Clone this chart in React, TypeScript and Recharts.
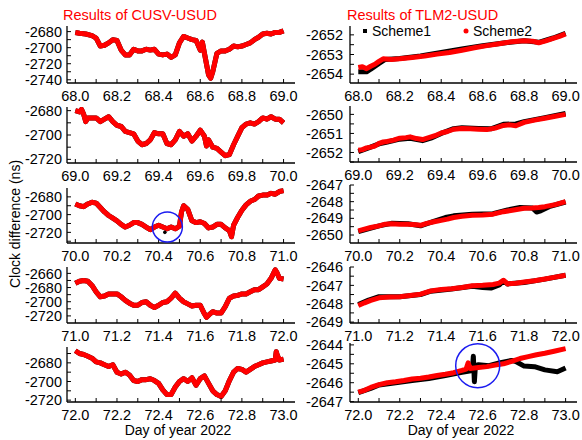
import { Line, LineChart, ReferenceDot, XAxis, YAxis } from "recharts";

type Pt = [number, number];

// CUSV-USUD, one array per day (both schemes overlap here)
const cusv68: Pt[] = [[68.00,-2681],[68.02,-2682],[68.05,-2683],[68.08,-2685],[68.10,-2688],[68.12,-2698],[68.14,-2697],[68.16,-2694],[68.18,-2690],[68.20,-2691],[68.22,-2703],[68.24,-2709],[68.26,-2709],[68.28,-2702],[68.30,-2704],[68.32,-2704],[68.34,-2702],[68.36,-2703],[68.38,-2702],[68.40,-2708],[68.42,-2709],[68.44,-2708],[68.46,-2712],[68.48,-2709],[68.50,-2694],[68.52,-2686],[68.54,-2688],[68.56,-2690],[68.58,-2691],[68.60,-2703],[68.61,-2693],[68.62,-2707],[68.64,-2734],[68.65,-2738],[68.66,-2730],[68.68,-2707],[68.70,-2704],[68.72,-2704],[68.74,-2702],[68.76,-2698],[68.78,-2699],[68.80,-2698],[68.82,-2696],[68.84,-2694],[68.86,-2690],[68.88,-2687],[68.90,-2683],[68.92,-2682],[68.94,-2683],[68.96,-2681],[68.98,-2681],[69.00,-2679]];
const cusv69: Pt[] = [[69.00,-2680],[69.02,-2681],[69.03,-2679],[69.04,-2683],[69.05,-2689],[69.06,-2686],[69.08,-2686],[69.10,-2686],[69.12,-2689],[69.14,-2687],[69.16,-2685],[69.18,-2689],[69.20,-2692],[69.22,-2693],[69.24,-2697],[69.26,-2698],[69.28,-2699],[69.30,-2705],[69.32,-2708],[69.34,-2707],[69.36,-2704],[69.38,-2698],[69.40,-2699],[69.42,-2699],[69.44,-2707],[69.46,-2708],[69.48,-2704],[69.50,-2697],[69.52,-2701],[69.54,-2699],[69.56,-2705],[69.58,-2701],[69.60,-2696],[69.62,-2701],[69.63,-2709],[69.64,-2704],[69.66,-2710],[69.68,-2711],[69.70,-2714],[69.72,-2717],[69.74,-2716],[69.76,-2708],[69.78,-2701],[69.80,-2694],[69.82,-2691],[69.84,-2690],[69.86,-2691],[69.88,-2689],[69.90,-2686],[69.92,-2687],[69.94,-2685],[69.96,-2687],[69.98,-2687],[70.00,-2690]];
const cusv70: Pt[] = [[70.00,-2688],[70.02,-2690],[70.04,-2691],[70.06,-2688],[70.08,-2686],[70.10,-2687],[70.12,-2692],[70.14,-2697],[70.16,-2701],[70.18,-2704],[70.20,-2707],[70.22,-2711],[70.24,-2714],[70.26,-2712],[70.28,-2709],[70.30,-2709],[70.32,-2711],[70.34,-2714],[70.36,-2717],[70.38,-2714],[70.40,-2712],[70.42,-2714],[70.44,-2716],[70.46,-2714],[70.48,-2716],[70.50,-2713],[70.51,-2697],[70.52,-2690],[70.54,-2694],[70.56,-2707],[70.58,-2709],[70.60,-2708],[70.62,-2710],[70.64,-2715],[70.66,-2714],[70.68,-2711],[70.70,-2711],[70.72,-2715],[70.74,-2718],[70.75,-2725],[70.76,-2712],[70.78,-2703],[70.80,-2695],[70.82,-2689],[70.84,-2685],[70.86,-2683],[70.88,-2679],[70.90,-2678],[70.92,-2678],[70.94,-2676],[70.96,-2677],[70.98,-2674],[71.00,-2673]];
const cusv70Outlier: Pt[] = [[70.43,-2720]];
const cusv71: Pt[] = [[71.00,-2674],[71.02,-2671],[71.04,-2670],[71.06,-2671],[71.08,-2677],[71.10,-2686],[71.12,-2693],[71.14,-2692],[71.16,-2689],[71.18,-2689],[71.20,-2689],[71.22,-2693],[71.24,-2698],[71.26,-2702],[71.28,-2705],[71.30,-2705],[71.32,-2701],[71.34,-2700],[71.36,-2705],[71.38,-2708],[71.40,-2705],[71.42,-2701],[71.44,-2700],[71.46,-2695],[71.48,-2688],[71.50,-2695],[71.52,-2700],[71.54,-2703],[71.56,-2706],[71.58,-2705],[71.60,-2705],[71.62,-2717],[71.63,-2722],[71.64,-2719],[71.66,-2714],[71.68,-2716],[71.70,-2716],[71.72,-2707],[71.74,-2695],[71.76,-2692],[71.78,-2691],[71.80,-2689],[71.82,-2689],[71.84,-2686],[71.86,-2683],[71.88,-2683],[71.90,-2679],[71.92,-2675],[71.94,-2667],[71.96,-2655],[71.97,-2660],[71.98,-2667],[72.00,-2668]];
const cusv72: Pt[] = [[72.00,-2667],[72.02,-2670],[72.04,-2671],[72.06,-2673],[72.08,-2675],[72.10,-2679],[72.12,-2680],[72.14,-2682],[72.16,-2684],[72.18,-2682],[72.20,-2690],[72.22,-2692],[72.24,-2690],[72.26,-2693],[72.28,-2699],[72.30,-2700],[72.32,-2698],[72.34,-2698],[72.36,-2697],[72.38,-2699],[72.40,-2702],[72.42,-2709],[72.44,-2714],[72.46,-2714],[72.48,-2706],[72.50,-2700],[72.52,-2697],[72.54,-2700],[72.56,-2696],[72.58,-2704],[72.60,-2697],[72.62,-2694],[72.64,-2702],[72.66,-2710],[72.68,-2714],[72.70,-2716],[72.72,-2710],[72.74,-2699],[72.76,-2690],[72.78,-2686],[72.80,-2687],[72.82,-2690],[72.84,-2687],[72.86,-2684],[72.88,-2682],[72.90,-2680],[72.92,-2679],[72.94,-2678],[72.96,-2677],[72.965,-2668],[72.97,-2672],[72.98,-2677],[73.00,-2676]];

// TLM2-USUD, Scheme1 (black) and Scheme2 (red)
const tlm68s1: Pt[] = [[68.00,-2653.88],[68.04,-2653.88],[68.06,-2653.75],[68.10,-2653.45],[68.13,-2653.25],[68.20,-2653.2],[68.30,-2653.07],[68.40,-2652.9],[68.50,-2652.72],[68.60,-2652.55],[68.70,-2652.42],[68.80,-2652.3],[68.87,-2652.38],[68.94,-2652.16],[69.00,-2651.93]];
const tlm68s2: Pt[] = [[68.00,-2653.66],[68.02,-2653.62],[68.04,-2653.72],[68.06,-2653.6],[68.08,-2653.5],[68.10,-2653.35],[68.12,-2653.22],[68.16,-2653.25],[68.20,-2653.22],[68.26,-2653.15],[68.32,-2653.08],[68.38,-2652.98],[68.44,-2652.9],[68.50,-2652.78],[68.56,-2652.66],[68.62,-2652.55],[68.68,-2652.45],[68.74,-2652.35],[68.80,-2652.3],[68.84,-2652.32],[68.87,-2652.4],[68.90,-2652.32],[68.94,-2652.18],[68.97,-2652.08],[69.00,-2651.95]];
const tlm69s1: Pt[] = [[69.00,-2651.95],[69.04,-2651.8],[69.10,-2651.55],[69.14,-2651.45],[69.20,-2651.3],[69.25,-2651.25],[69.31,-2651.38],[69.35,-2651.25],[69.40,-2651.0],[69.46,-2650.75],[69.50,-2650.7],[69.58,-2650.74],[69.64,-2650.76],[69.70,-2650.52],[69.76,-2650.5],[69.80,-2650.38],[69.90,-2650.17],[70.00,-2649.95]];
const tlm69s2: Pt[] = [[69.00,-2651.88],[69.02,-2651.85],[69.04,-2651.76],[69.06,-2651.72],[69.08,-2651.66],[69.10,-2651.52],[69.12,-2651.45],[69.14,-2651.42],[69.17,-2651.35],[69.20,-2651.25],[69.23,-2651.22],[69.25,-2651.18],[69.28,-2651.27],[69.31,-2651.32],[69.34,-2651.22],[69.37,-2651.12],[69.40,-2650.98],[69.43,-2650.9],[69.46,-2650.78],[69.50,-2650.74],[69.54,-2650.76],[69.58,-2650.78],[69.62,-2650.8],[69.66,-2650.72],[69.70,-2650.58],[69.73,-2650.55],[69.76,-2650.6],[69.80,-2650.42],[69.85,-2650.3],[69.90,-2650.2],[69.95,-2650.1],[70.00,-2650.0]];
const tlm70s1: Pt[] = [[70.00,-2649.8],[70.10,-2649.45],[70.16,-2649.3],[70.24,-2649.33],[70.30,-2649.45],[70.36,-2649.2],[70.42,-2648.95],[70.46,-2648.85],[70.55,-2648.75],[70.65,-2648.72],[70.72,-2648.5],[70.78,-2648.35],[70.84,-2648.38],[70.86,-2648.62],[70.88,-2648.55],[70.92,-2648.3],[71.00,-2648.02]];
const tlm70s2: Pt[] = [[70.00,-2649.75],[70.03,-2649.65],[70.06,-2649.55],[70.10,-2649.45],[70.13,-2649.35],[70.16,-2649.32],[70.20,-2649.35],[70.24,-2649.35],[70.28,-2649.38],[70.30,-2649.42],[70.33,-2649.3],[70.36,-2649.22],[70.40,-2649.12],[70.43,-2649.05],[70.46,-2648.95],[70.50,-2648.88],[70.55,-2648.82],[70.60,-2648.8],[70.65,-2648.75],[70.70,-2648.6],[70.75,-2648.5],[70.80,-2648.4],[70.84,-2648.38],[70.87,-2648.35],[70.90,-2648.3],[70.95,-2648.18],[71.00,-2648.0]];
const tlm71s1: Pt[] = [[71.00,-2648.05],[71.05,-2647.8],[71.10,-2647.62],[71.20,-2647.62],[71.30,-2647.5],[71.35,-2647.32],[71.45,-2647.2],[71.55,-2647.05],[71.60,-2647.12],[71.64,-2647.15],[71.68,-2646.98],[71.70,-2646.75],[71.72,-2646.92],[71.80,-2646.84],[71.90,-2646.66],[72.00,-2646.45]];
const tlm71s2: Pt[] = [[71.00,-2648.1],[71.03,-2647.95],[71.06,-2647.82],[71.10,-2647.68],[71.15,-2647.63],[71.20,-2647.62],[71.25,-2647.55],[71.30,-2647.48],[71.35,-2647.3],[71.40,-2647.22],[71.45,-2647.18],[71.50,-2647.12],[71.55,-2647.02],[71.60,-2647.0],[71.65,-2646.95],[71.68,-2646.88],[71.70,-2646.72],[71.72,-2646.92],[71.76,-2646.88],[71.80,-2646.82],[71.85,-2646.75],[71.90,-2646.65],[71.95,-2646.55],[72.00,-2646.45]];
const tlm72s1: Pt[] = [[72.00,-2646.52],[72.06,-2646.3],[72.10,-2646.12],[72.18,-2646.0],[72.26,-2645.88],[72.34,-2645.78],[72.42,-2645.62],[72.50,-2645.45],[72.55,-2645.35],[72.555,-2644.6],[72.56,-2645.95],[72.565,-2645.1],[72.58,-2645.05],[72.63,-2645.1],[72.68,-2644.95],[72.74,-2644.82],[72.76,-2644.88],[72.80,-2645.12],[72.85,-2645.15],[72.90,-2645.32],[72.96,-2645.42],[73.00,-2645.22]];
const tlm72s2: Pt[] = [[72.00,-2646.5],[72.03,-2646.4],[72.06,-2646.25],[72.10,-2646.1],[72.14,-2646.0],[72.18,-2645.95],[72.22,-2645.88],[72.26,-2645.8],[72.30,-2645.76],[72.34,-2645.7],[72.38,-2645.62],[72.42,-2645.55],[72.46,-2645.47],[72.50,-2645.35],[72.52,-2645.28],[72.53,-2644.95],[72.54,-2645.25],[72.58,-2645.2],[72.62,-2645.15],[72.66,-2645.07],[72.70,-2645.0],[72.74,-2644.87],[72.78,-2644.72],[72.82,-2644.62],[72.86,-2644.52],[72.90,-2644.44],[72.95,-2644.32],[73.00,-2644.2]];

// x ticks every 0.1 day, labels every 0.2
const xTickOffsets = [0, 0.1, 0.2, 0.3, 0.4, 0.5, 0.6, 0.7, 0.8, 0.9, 1.0];
const xLabelOffsets = [0, 0.2, 0.4, 0.6, 0.8, 1.0];

const FONT = '"Liberation Sans", Arial, sans-serif';
const RED = "#ff0000";
const BLUE = "#1c1cf0";

const COLS = [
  { left: 0, plotLeft: 67, plotRight: 295, tickMargin: 9 },
  { left: 290, plotLeft: 350, plotRight: 577, tickMargin: 11 },
];

type PanelProps = {
  col: number;
  top: number;
  bottom: number;
  day: number;
  yDomain: [number, number];
  yLabels: number[];
  yMinor: number[];
  s1: Pt[];
  s2: Pt[];
  extra?: Pt[];
  circle?: { x: number; y: number; r: number };
};

const rows = (pts: Pt[]) => pts.map(([t, v]) => ({ t, v }));

function Panel({ col, top, bottom, day, yDomain, yLabels, yMinor, s1, s2, extra, circle }: PanelProps) {
  const c = COLS[col];
  const mt = 12;
  const xh = 24;
  const width = c.plotRight - c.left + 6;
  const height = bottom - top + mt + xh;
  const tickStyle = { fill: "#000", fontSize: 14.5, fontFamily: FONT };
  const xLabelled = (v: number) => xLabelOffsets.some((o) => Math.abs(day + o - v) < 1e-6);
  return (
    <div style={{ position: "absolute", left: c.left, top: top - mt }}>
      <LineChart width={width} height={height} margin={{ top: mt, right: 6, left: 0, bottom: 0 }}>
        <XAxis
          dataKey="t"
          type="number"
          domain={[day - 0.04, day + 1.055]}
          allowDataOverflow
          ticks={xTickOffsets.map((o) => day + o)}
          interval={0}
          tickFormatter={(v) => (xLabelled(Number(v)) ? Number(v).toFixed(1) : "")}
          tick={tickStyle}
          tickSize={-4}
          tickMargin={12}
          height={xh}
          axisLine={{ stroke: "#000", strokeWidth: 1.3 }}
          tickLine={{ stroke: "#000", strokeWidth: 1 }}
        />
        <YAxis
          type="number"
          domain={yDomain}
          allowDataOverflow
          ticks={[...yLabels, ...yMinor].sort((a, b) => a - b)}
          interval={0}
          tickFormatter={(v) => (yLabels.includes(Number(v)) ? String(v) : "")}
          tick={tickStyle}
          tickSize={-4}
          tickMargin={c.tickMargin}
          width={c.plotLeft - c.left}
          axisLine={{ stroke: "#000", strokeWidth: 1.3 }}
          tickLine={{ stroke: "#000", strokeWidth: 1 }}
        />
        <Line data={rows(s1)} dataKey="v" type="linear" stroke="#000" strokeWidth={5} strokeLinejoin="round" dot={false} isAnimationActive={false} />
        <Line data={rows(s2)} dataKey="v" type="linear" stroke={RED} strokeWidth={5} strokeLinejoin="round" dot={false} isAnimationActive={false} />
        {extra && (
          <Line data={rows(extra)} dataKey="v" stroke="none" dot={{ r: 1.8, fill: "#000", stroke: "none" }} isAnimationActive={false} />
        )}
        {circle && (
          <ReferenceDot x={circle.x} y={circle.y} r={circle.r} fill="none" stroke={BLUE} strokeWidth={1.5} />
        )}
      </LineChart>
    </div>
  );
}

export default function App() {
  return (
    <div style={{ position: "absolute", left: 0, top: 0, width: 582, height: 440, background: "#fff", fontFamily: FONT }}>
      <Panel col={0} top={26} bottom={83} day={68} yDomain={[-2744, -2673]} yLabels={[-2740, -2720, -2700, -2680]} yMinor={[-2730, -2710, -2690]} s1={cusv68} s2={cusv68} />
      <Panel col={0} top={107} bottom={163} day={69} yDomain={[-2723, -2677]} yLabels={[-2720, -2700, -2680]} yMinor={[-2710, -2690]} s1={cusv69} s2={cusv69} />
      <Panel col={0} top={188} bottom={243} day={70} yDomain={[-2732, -2670]} yLabels={[-2720, -2700, -2680]} yMinor={[-2730, -2710, -2690]} s1={cusv70} s2={cusv70} extra={cusv70Outlier} circle={{ x: 70.442, y: -2714, r: 15 }} />
      <Panel col={0} top={267} bottom={323} day={71} yDomain={[-2730, -2651]} yLabels={[-2720, -2700, -2680, -2660]} yMinor={[-2710, -2690, -2670]} s1={cusv71} s2={cusv71} />
      <Panel col={0} top={347} bottom={402} day={72} yDomain={[-2722, -2663]} yLabels={[-2720, -2700, -2680]} yMinor={[-2710, -2690, -2670]} s1={cusv72} s2={cusv72} />

      <Panel col={1} top={26} bottom={83} day={68} yDomain={[-2654.45, -2651.55]} yLabels={[-2654, -2653, -2652]} yMinor={[-2653.5, -2652.5]} s1={tlm68s1} s2={tlm68s2} />
      <Panel col={1} top={106} bottom={162} day={69} yDomain={[-2652.5, -2649.56]} yLabels={[-2652, -2651, -2650]} yMinor={[-2652.5, -2651.5, -2650.5]} s1={tlm69s1} s2={tlm69s2} />
      <Panel col={1} top={185} bottom={243} day={70} yDomain={[-2650.48, -2647]} yLabels={[-2650, -2649, -2648, -2647]} yMinor={[-2649.5, -2648.5, -2647.5]} s1={tlm70s1} s2={tlm70s2} />
      <Panel col={1} top={267} bottom={323} day={71} yDomain={[-2649.05, -2646]} yLabels={[-2649, -2648, -2647, -2646]} yMinor={[-2648.5, -2647.5, -2646.5]} s1={tlm71s1} s2={tlm71s2} />
      <Panel col={1} top={343} bottom={402} day={72} yDomain={[-2647.02, -2643.9]} yLabels={[-2647, -2646, -2645, -2644]} yMinor={[-2646.5, -2645.5, -2644.5]} s1={tlm72s1} s2={tlm72s2} circle={{ x: 72.576, y: -2645.1, r: 22 }} />

      <svg width={582} height={440} style={{ position: "absolute", left: 0, top: 0, pointerEvents: "none" }} fontFamily={FONT}>
        <text x={63} y={20} fontSize={14.5} fill={RED}>Results of CUSV-USUD</text>
        <text x={347} y={20} fontSize={14.5} fill={RED}>Results of TLM2-USUD</text>
        <rect x={363} y={29} width={4} height={4} fill="#000" />
        <text x={372} y={36} fontSize={14} fill="#000">Scheme1</text>
        <circle cx={466} cy={31} r={2.5} fill={RED} />
        <text x={473} y={36} fontSize={14} fill="#000">Scheme2</text>
        <text x={0} y={0} fontSize={14} fill="#000" textAnchor="middle" transform="translate(20 224) rotate(-90)">Clock difference (ns)</text>
        <text x={178} y={435} fontSize={14} fill="#000" textAnchor="middle">Day of year 2022</text>
        <text x={461} y={435} fontSize={14} fill="#000" textAnchor="middle">Day of year 2022</text>
      </svg>
    </div>
  );
}
